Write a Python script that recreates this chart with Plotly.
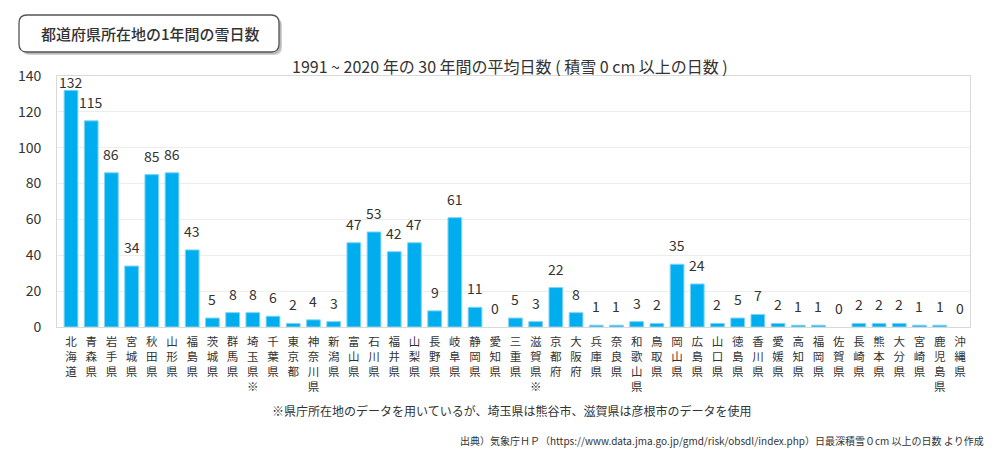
import plotly.graph_objects as go

prefectures = ["北海道", "青森県", "岩手県", "宮城県", "秋田県", "山形県", "福島県", "茨城県", "群馬県",
               "埼玉県※", "千葉県", "東京都", "神奈川県", "新潟県", "富山県", "石川県", "福井県", "山梨県",
               "長野県", "岐阜県", "静岡県", "愛知県", "三重県", "滋賀県※", "京都府", "大阪府", "兵庫県",
               "奈良県", "和歌山県", "鳥取県", "岡山県", "広島県", "山口県", "徳島県", "香川県", "愛媛県",
               "高知県", "福岡県", "佐賀県", "長崎県", "熊本県", "大分県", "宮崎県", "鹿児島県", "沖縄県"]
snow_days = [132, 115, 86, 34, 85, 86, 43, 5, 8,
             8, 6, 2, 4, 3, 47, 53, 42, 47,
             9, 61, 11, 0, 5, 3, 22, 8, 1,
             1, 3, 2, 35, 24, 2, 5, 7, 2,
             1, 1, 0, 2, 2, 2, 1, 1, 0]
y_ticks = [0, 20, 40, 60, 80, 100, 120, 140]

title_text = "都道府県所在地の1年間の雪日数"
subtitle_text = "1991 ~ 2020 年の 30 年間の平均日数 ( 積雪 0 cm 以上の日数 )"
note_text = "※県庁所在地のデータを用いているが、埼玉県は熊谷市、滋賀県は彦根市のデータを使用"
source_text = "出典）気象庁ＨＰ（https://www.data.jma.go.jp/gmd/risk/obsdl/index.php）日最深積雪０cm 以上の日数 より作成"

FONT = "Noto Sans CJK JP"
OFF = 8  # page body margin offset
W, H = 1000 - OFF, 457 - OFF
# target plot area in page pixels: x 57..970, y 76..327
ML, MR, MT, MB = 57 - OFF, 1000 - 970, 76 - OFF, 457 - 327
PW, PH = W - ML - MR, H - MT - MB
Y_MAX = 140
PX_PER_UNIT = PH / Y_MAX
LABEL_GAP = 19      # px between bar top and label centre
LABEL_CAP = 136.5   # highest label centre (data units)


def px(x):
    return (x - OFF - ML) / PW


def py(y):
    return (H - MB - (y - OFF)) / PH


def vertical(label):
    return "<br>".join(list(label))


fig = go.Figure()
fig.add_trace(go.Bar(
    x=prefectures,
    y=snow_days,
    marker=dict(color="#00AEEF",
                line=dict(color="#7FD4F5", width=[1 if v > 0 else 0 for v in snow_days])),
    hoverinfo="x+y",
))


def rounded_rect(x0, y0, x1, y1, r):
    rx, ry = r / PW, r / PH
    X0, X1 = px(x0), px(x1)
    Y0, Y1 = py(y1), py(y0)
    return (f"M {X0+rx},{Y1} L {X1-rx},{Y1} Q {X1},{Y1} {X1},{Y1-ry} "
            f"L {X1},{Y0+ry} Q {X1},{Y0} {X1-rx},{Y0} "
            f"L {X0+rx},{Y0} Q {X0},{Y0} {X0},{Y0+ry} "
            f"L {X0},{Y1-ry} Q {X0},{Y1} {X0+rx},{Y1} Z")


shapes = [
    dict(type="path", xref="paper", yref="paper", path=rounded_rect(22, 18, 282, 55, 8),
         fillcolor="rgba(120,120,120,0.35)", line=dict(width=0), layer="above"),
    dict(type="path", xref="paper", yref="paper", path=rounded_rect(21, 17, 281, 54, 8),
         fillcolor="rgba(120,120,120,0.25)", line=dict(width=0), layer="above"),
    dict(type="path", xref="paper", yref="paper", path=rounded_rect(19, 15, 279, 52, 8),
         fillcolor="white", line=dict(color="#555555", width=1.3), layer="above"),
]

annotations = [
    dict(text=title_text, xref="paper", yref="paper", x=px(150), y=py(34),
         xanchor="center", yanchor="middle", showarrow=False,
         font=dict(family=FONT, size=15, color="#333333", weight=500)),
    dict(text=subtitle_text, xref="paper", yref="paper", x=px(510), y=py(66),
         xanchor="center", yanchor="middle", showarrow=False,
         font=dict(family=FONT, size=16, color="#333333")),
    dict(text=note_text, xref="paper", yref="paper", x=px(270), y=py(410),
         xanchor="left", yanchor="middle", showarrow=False,
         font=dict(family=FONT, size=12, color="#333333")),
    dict(text=source_text, xref="paper", yref="paper", x=px(986), y=py(440),
         xanchor="right", yanchor="middle", showarrow=False,
         font=dict(family=FONT, size=10, color="#333333")),
]

# value labels above bars
for name, v in zip(prefectures, snow_days):
    shift = min(LABEL_GAP, (LABEL_CAP - v) * PX_PER_UNIT)
    annotations.append(dict(
        text=str(v), xref="x", yref="y", x=name, y=v, yshift=shift,
        xanchor="center", yanchor="middle", showarrow=False,
        font=dict(family=FONT, size=14, color="#333333"),
    ))

fig.update_layout(
    width=W, height=H,
    margin=dict(l=ML, r=MR, t=MT, b=MB),
    paper_bgcolor="white", plot_bgcolor="white",
    bargap=0.32,
    showlegend=False,
    shapes=shapes,
    annotations=annotations,
    font=dict(family=FONT, color="#333333"),
)
fig.update_xaxes(
    tickmode="array", tickvals=prefectures, ticktext=[vertical(p) for p in prefectures],
    tickangle=0, tickfont=dict(family=FONT, size=11.5, color="#333333"),
    automargin=False, ticklabelstandoff=4,
    showline=True, linecolor="#D9D9D9", linewidth=1, mirror=True,
    ticks="", showgrid=False,
)
fig.update_yaxes(
    range=[0, Y_MAX], tickmode="array", tickvals=y_ticks, automargin=False,
    tickfont=dict(family=FONT, size=14, color="#333333"),
    showgrid=True, gridcolor="#EDEDED", gridwidth=1,
    showline=True, linecolor="#D9D9D9", linewidth=1, mirror=True,
    ticks="", ticklabelstandoff=12, zeroline=False,
)

fig.write_html("out.html")
